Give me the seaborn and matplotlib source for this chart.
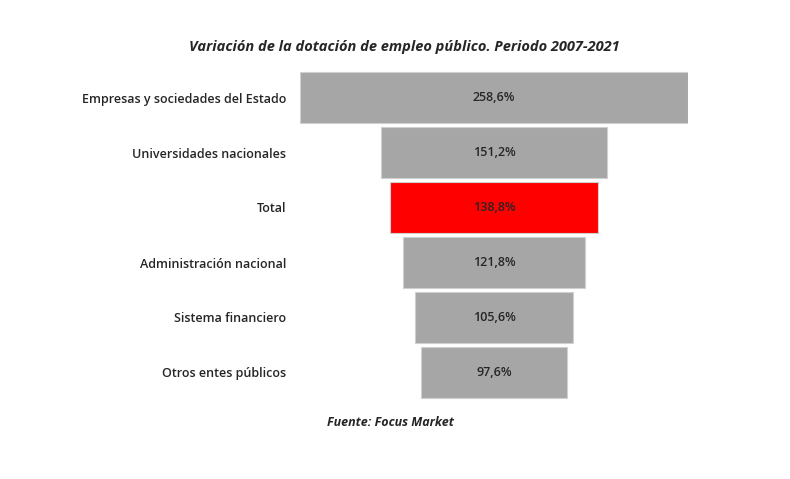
import matplotlib
matplotlib.use('Agg')
import matplotlib.pyplot as plt
import seaborn as sns

categories = ["Empresas y sociedades del Estado", "Universidades nacionales", "Total",
              "Administración nacional", "Sistema financiero", "Otros entes públicos"]
values = [258.6, 151.2, 138.8, 121.8, 105.6, 97.6]
value_labels = ["258,6%", "151,2%", "138,8%", "121,8%", "105,6%", "97,6%"]
colors = ["#a6a6a6", "#a6a6a6", "#ff0000", "#a6a6a6", "#a6a6a6", "#a6a6a6"]

sns.set_style("white")
plt.rcParams['font.family'] = ['Open Sans', 'DejaVu Sans']

fig = plt.figure(figsize=(7.9, 4.79), dpi=100)
ax = fig.add_axes([300 / 790, 1 - 400 / 479, 388 / 790, 330 / 479])

pos = list(range(len(categories)))
ax.barh(pos, values, left=[-v / 2 for v in values], height=0.91,
        color=colors, edgecolor="#d0d0d0", linewidth=0.8)
for p, lab in zip(pos, value_labels):
    ax.text(0, p, lab, ha="center", va="center", fontsize=9, fontweight="semibold")

ax.set_xlim(-129.3, 129.3)
ax.set_ylim(len(categories) - 0.5, -0.5)
ax.set_yticks(pos)
ax.set_yticklabels(categories, fontsize=9, fontweight="semibold")
ax.tick_params(axis="y", length=0, pad=10)
ax.set_xticks([])
for s in ax.spines.values():
    s.set_visible(False)

fig.text(404 / 790, 1 - 47 / 479, "Variación de la dotación de empleo público. Periodo 2007-2021",
         ha="center", va="center", fontsize=10.5, fontweight="bold", style="italic")
fig.text(390 / 790, 1 - 423 / 479, "Fuente: Focus Market",
         ha="center", va="center", fontsize=9, fontweight="bold", style="italic")

plt.savefig("out.png", dpi=100)
plt.close()
